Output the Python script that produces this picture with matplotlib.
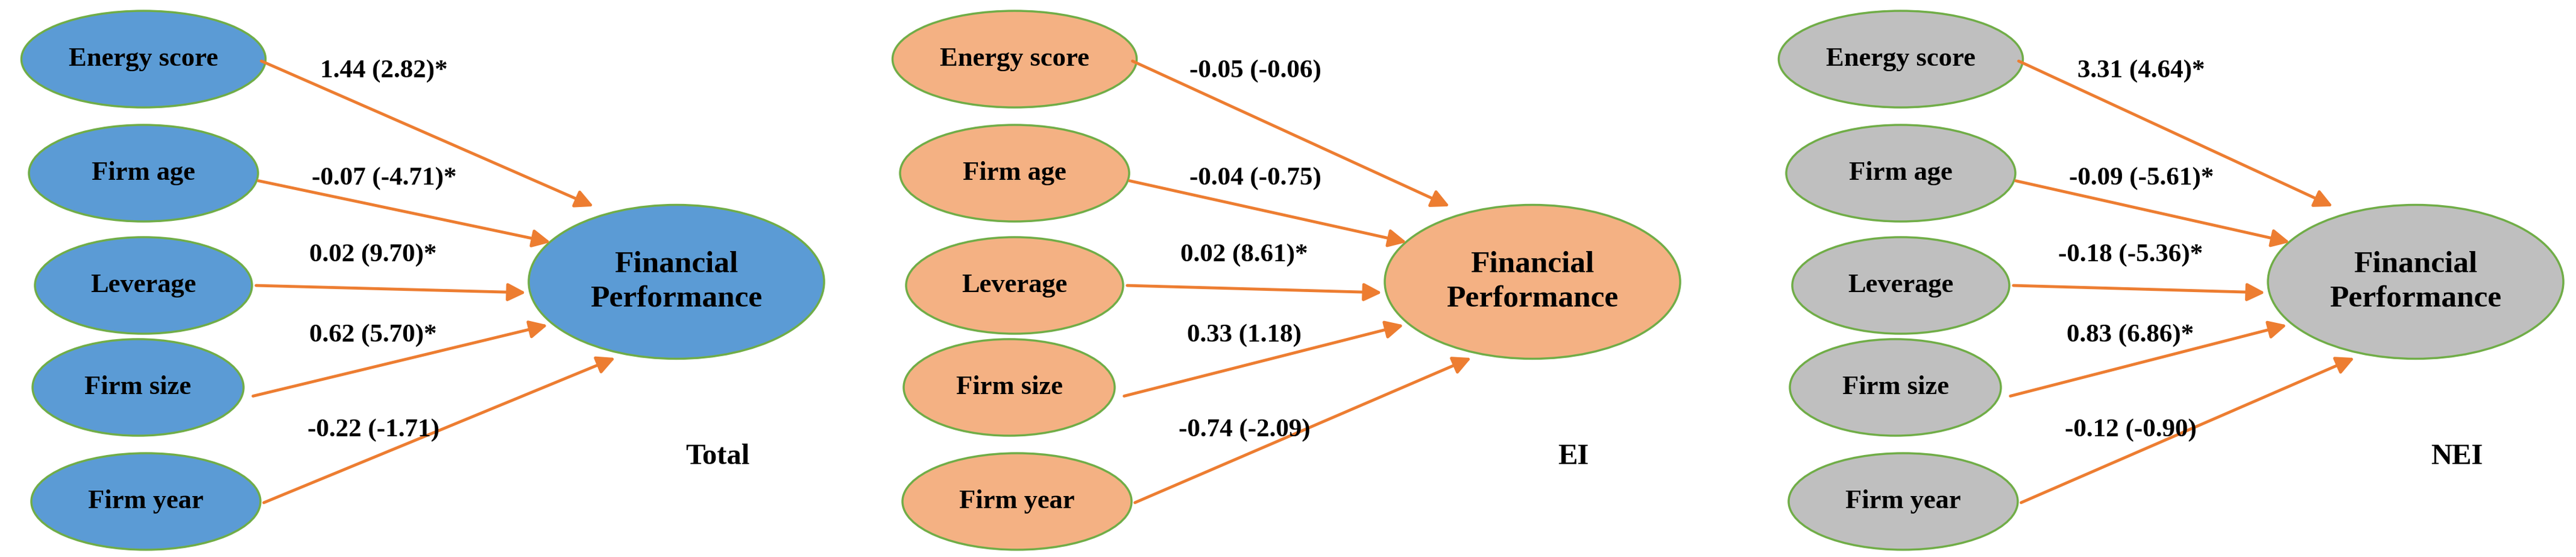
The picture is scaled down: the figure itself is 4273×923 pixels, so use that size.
import matplotlib
matplotlib.use("Agg")
import matplotlib.pyplot as plt
from matplotlib.patches import Ellipse, FancyArrowPatch

predictors = ["Energy score", "Firm age", "Leverage", "Firm size", "Firm year"]
outcome = "Financial\nPerformance"
panel_names = ["Total", "EI", "NEI"]
coef_total = ["1.44 (2.82)*", "-0.07 (-4.71)*", "0.02 (9.70)*", "0.62 (5.70)*", "-0.22 (-1.71)"]
coef_ei = ["-0.05 (-0.06)", "-0.04 (-0.75)", "0.02 (8.61)*", "0.33 (1.18)", "-0.74 (-2.09)"]
coef_nei = ["3.31 (4.64)*", "-0.09 (-5.61)*", "-0.18 (-5.36)*", "0.83 (6.86)*", "-0.12 (-0.90)"]
coefs = [coef_total, coef_ei, coef_nei]
fills = ["#5B9BD5", "#F4B183", "#BFBFBF"]

W, H = 4273, 923
fig = plt.figure(figsize=(W/100, H/100), dpi=100)
ax = fig.add_axes([0, 0, 1, 1])
ax.set_xlim(0, W); ax.set_ylim(H, 0); ax.axis("off")

offsets = [0, 1445, 2915]
fp_shift = [0, -25, -30]
pred_c = [(238, 98), (238, 287), (238, 473), (229, 642), (242, 831)]
pred_w, pred_h = [405, 380, 360, 350, 380], 160
fp_c, fp_w, fp_h = (1122, 467), 490, 255
starts = [(431, 100), (426, 299), (422, 473), (417, 657), (435, 834)]
ends = [(987, 343), (916, 402), (875, 485), (911, 538), (1023, 592)]
lab_pos = [(637, 118), (637, 296), (619, 423), (619, 556), (619, 713)]
name_pos = (1190, 757)
font = "Liberation Serif"

for p, off in enumerate(offsets):
    fs = fp_shift[p]
    for i, name in enumerate(predictors):
        cx, cy = pred_c[i]
        ax.add_patch(Ellipse((cx+off, cy), pred_w[i], pred_h, facecolor=fills[p],
                             edgecolor="#70AD47", lw=2.5, zorder=2))
        ax.text(cx+off, cy, name, ha="center", va="center", fontsize=32,
                fontweight="bold", family=font, zorder=3)
        sx, sy = starts[i]; ex, ey = ends[i]
        ax.add_patch(FancyArrowPatch((sx+off, sy), (ex+off+fs, ey), arrowstyle="-|>",
                                     mutation_scale=45, color="#ED7D31", lw=3.5, zorder=4))
        lx, ly = lab_pos[i]
        ax.text(lx+off, ly, coefs[p][i], ha="center", va="center", fontsize=31,
                fontweight="bold", family=font, zorder=5)
    ax.add_patch(Ellipse((fp_c[0]+off+fs, fp_c[1]), fp_w, fp_h, facecolor=fills[p],
                         edgecolor="#70AD47", lw=2.5, zorder=2))
    ax.text(fp_c[0]+off+fs, fp_c[1], outcome, ha="center", va="center", fontsize=37,
            fontweight="bold", family=font, linespacing=1.3, zorder=3)
    ax.text(name_pos[0]+off+fs, name_pos[1], panel_names[p], ha="center", va="center",
            fontsize=35, fontweight="bold", family=font)

fig.savefig("out.png", dpi=100)
